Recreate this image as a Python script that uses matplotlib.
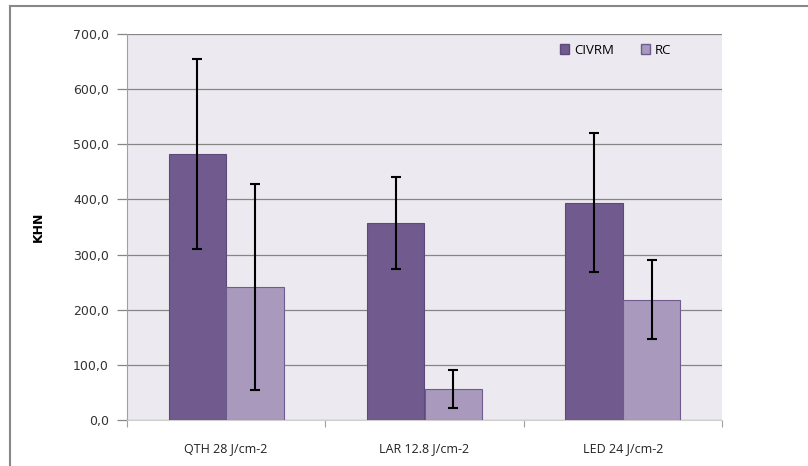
import matplotlib
matplotlib.use("Agg")
import matplotlib.pyplot as plt
from matplotlib.lines import Line2D
from matplotlib.patches import Patch

categories = ["QTH 28 J/cm-2", "LAR 12.8 J/cm-2", "LED 24 J/cm-2"]
series_names = ["CIVRM", "RC"]
civrm = [482, 357, 394]
civrm_err = [172, 83, 126]
rc = [241, 56, 218]
rc_err = [187, 35, 72]
yticks = [0, 100, 200, 300, 400, 500, 600, 700]
ytick_labels = ["0,0", "100,0", "200,0", "300,0", "400,0", "500,0", "600,0", "700,0"]

c1 = "#705A8E"
c2 = "#A899BD"
fig = plt.figure(figsize=(8.08, 4.66), dpi=100)
fig.patch.set_facecolor("white")
ax = fig.add_axes([127/808, 46/466, (722-127)/808, (420-34)/466])
ax.set_facecolor("#ECEAF0")

x = [i + 0.5 for i in range(len(categories))]
w = 0.29
ax.bar([v - w/2 for v in x], civrm, width=w, color=c1, edgecolor="#5E4A7A", linewidth=0.8, zorder=3, label=series_names[0])
ax.bar([v + w/2 for v in x], rc, width=w, color=c2, edgecolor="#6F5C8E", linewidth=0.8, zorder=3, label=series_names[1])
ax.errorbar([v - w/2 for v in x], civrm, yerr=civrm_err, fmt="none", ecolor="black", elinewidth=1.5, capsize=3.4, capthick=1.5, zorder=4)
ax.errorbar([v + w/2 for v in x], rc, yerr=rc_err, fmt="none", ecolor="black", elinewidth=1.5, capsize=3.4, capthick=1.5, zorder=4)

ax.set_xlim(0, 3)
ax.set_ylim(0, 700)
ax.set_yticks(yticks)
ax.set_yticklabels(ytick_labels, fontsize=9, color="#333333")
ax.yaxis.grid(True, color="#868686", linewidth=0.9, zorder=1)
ax.set_axisbelow(True)
ax.tick_params(axis="y", length=7, color="#868686", width=0.9, pad=6)
ax.set_xticks([0, 1, 2, 3])
ax.set_xticklabels([])
ax.set_xticks(x, minor=True)
ax.set_xticklabels(categories, minor=True, fontsize=9, fontfamily="Open Sans", color="#222222")
ax.tick_params(axis="x", which="major", length=5, color="#A0A0A0", direction="out")
ax.tick_params(axis="x", which="minor", length=0, pad=16)
for s in ["top", "right"]:
    ax.spines[s].set_visible(False)
ax.spines["left"].set_color("#A0A0A0")
ax.spines["bottom"].set_color("#D0D0D0")
ax.set_ylabel("KHN", fontsize=9, fontweight="bold", labelpad=20)

handles = [Patch(facecolor=c1, edgecolor="#5E4A7A"), Patch(facecolor=c2, edgecolor="#6F5C8E")]
fig.legend(handles, series_names, loc="center left", bbox_to_anchor=(548/808, 1 - 50/466), ncol=2,
           frameon=False, handlelength=0.7, handleheight=0.7, handletextpad=0.4,
           columnspacing=2.0, prop={"family": "Open Sans", "size": 9.5})

fig.add_artist(Line2D([10/808, 1.0], [1 - 6/466, 1 - 6/466], color="#888888", linewidth=1.5, transform=fig.transFigure))
fig.add_artist(Line2D([10/808, 10/808], [0, 1 - 6/466], color="#888888", linewidth=1.5, transform=fig.transFigure))

fig.savefig("out.png", dpi=100)
